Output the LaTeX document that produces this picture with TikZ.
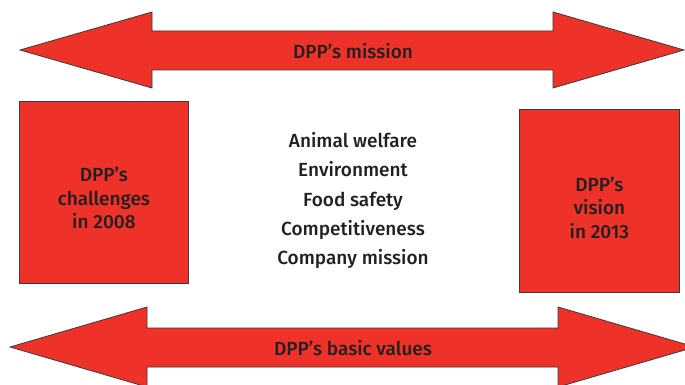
\documentclass[tikz,border=0pt]{standalone}
\usepackage{fontspec}
\setmainfont{Fira Sans Medium}
\definecolor{dppred}{HTML}{EE3229}
\definecolor{dpptext}{HTML}{231F20}
\definecolor{dppline}{HTML}{3A3A3A}
\tikzset{
  redshape/.style={fill=dppred, draw=dppline, line width=0.8pt, line join=miter},
  lbl/.style={text=dpptext, font=\fontsize{19}{22}\selectfont, inner sep=0pt},
  listlbl/.style={lbl, anchor=base},
  boxlbl/.style={lbl, align=center, font=\fontsize{19}{23.5}\selectfont},
}
\begin{document}
\begin{tikzpicture}[x=1pt,y=-1pt]
\clip (0,0) rectangle (685,385);
\fill[white] (0,0) rectangle (685,385);
% top double arrow
\draw[redshape] (20,50) -- (152,12) -- (152,31) -- (553,31) -- (553,12) -- (684,50)
  -- (553,88) -- (553,70) -- (152,70) -- (152,88) -- cycle;
% bottom double arrow
\draw[redshape] (10,347) -- (147,307) -- (147,328) -- (558,328) -- (558,307) -- (695,347)
  -- (558,387) -- (558,367) -- (147,367) -- (147,387) -- cycle;
% boxes
\node[redshape, minimum width=169, minimum height=182, inner sep=0pt, anchor=north west] (challenges) at (19,101) {};
\node[redshape, minimum width=160, minimum height=183, inner sep=0pt, anchor=north west] (vision) at (519,109) {};
\node[boxlbl] (challengestext) at ([yshift=-6]challenges.center) {DPP’s\\challenges\\in 2008};
\node[boxlbl] (visiontext) at ([yshift=-7]vision.center) {DPP’s\\vision\\in 2013};
% arrow labels
\node[lbl] (mission) at (353,51) {DPP’s mission};
\node[lbl] (values) at (353,348) {DPP’s basic values};
% centre list
\node[listlbl] (t1) at (353,147) {Animal welfare};
\node[listlbl] (t2) at (353,176) {Environment};
\node[listlbl] (t3) at (353,206) {Food safety};
\node[listlbl] (t4) at (353,235) {Competitiveness};
\node[listlbl] (t5) at (353,264) {Company mission};
\end{tikzpicture}
\end{document}
